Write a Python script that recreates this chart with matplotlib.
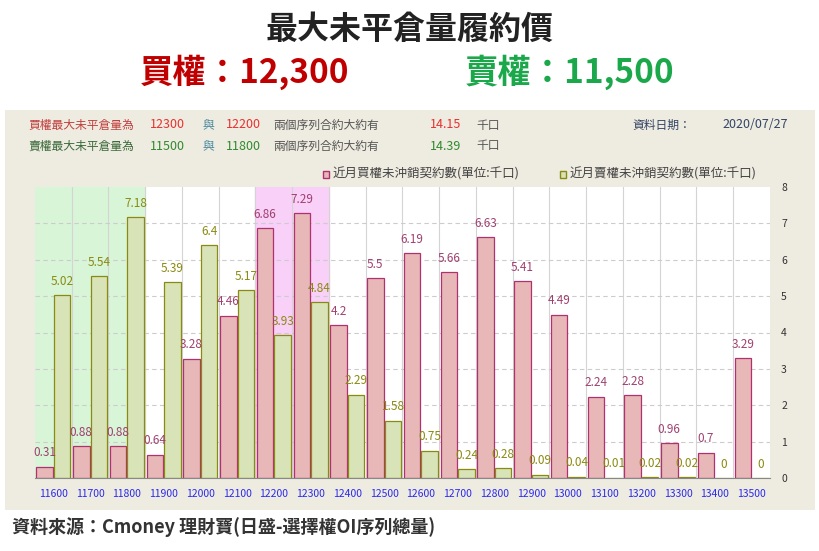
import matplotlib
matplotlib.use("Agg")
import matplotlib.pyplot as plt
from matplotlib.patches import Rectangle
from matplotlib import font_manager
import numpy as np

names = {f.name for f in font_manager.fontManager.ttflist}
cjk = next((c for c in ["Noto Sans CJK TC", "Noto Sans CJK JP", "Noto Sans CJK SC", "Noto Sans CJK KR"] if c in names), "DejaVu Sans")
plt.rcParams["font.family"] = [cjk, "DejaVu Sans"]

strikes = ["11600","11700","11800","11900","12000","12100","12200","12300","12400","12500",
           "12600","12700","12800","12900","13000","13100","13200","13300","13400","13500"]
call_oi = [0.31,0.88,0.88,0.64,3.28,4.46,6.86,7.29,4.2,5.5,6.19,5.66,6.63,5.41,4.49,2.24,2.28,0.96,0.7,3.29]
put_oi = [5.02,5.54,7.18,5.39,6.4,5.17,3.93,4.84,2.29,1.58,0.75,0.24,0.28,0.09,0.04,0.01,0.02,0.02,0,0]
call_labels = ["0.31","0.88","0.88","0.64","3.28","4.46","6.86","7.29","4.2","5.5","6.19","5.66","6.63","5.41","4.49","2.24","2.28","0.96","0.7","3.29"]
put_labels = ["5.02","5.54","7.18","5.39","6.4","5.17","3.93","4.84","2.29","1.58","0.75","0.24","0.28","0.09","0.04","0.01","0.02","0.02","0","0"]

W, H = 820, 551
fig = plt.figure(figsize=(W/100, H/100), dpi=100)
fig.patch.set_facecolor("white")

bg = fig.add_axes([5/W, 1-510/H, 810/W, 400/H], zorder=0)
bg.set_facecolor("#eeebe0")
bg.set_xticks([]); bg.set_yticks([])
for s in bg.spines.values():
    s.set_visible(False)

fig.text(0.5, 1-30/H, "最大未平倉量履約價", ha="center", va="center", fontsize=23, fontweight="bold", color="#222222")
fig.text(245/W, 1-72/H, "買權：12,300", ha="center", va="center", fontsize=24, fontweight="bold", color="#c00000")
fig.text(570/W, 1-72/H, "賣權：11,500", ha="center", va="center", fontsize=24, fontweight="bold", color="#1aa84a")

red = "#e83030"; grn = "#2e8b2e"; gray = "#555555"
y1 = 1-125/H; y2 = 1-146/H
fs = 8.5
for y, lab, a, b, v, c in [(y1, "買權最大未平倉量為", "12300", "12200", "14.15", red),
                           (y2, "賣權最大未平倉量為", "11500", "11800", "14.39", grn)]:
    fig.text(28/W, y, lab, fontsize=fs, color="#c04040" if c == red else "#3a6a3a", va="center")
    fig.text(150/W, y, a, fontsize=fs+0.5, color=c, va="center")
    fig.text(203/W, y, "與", fontsize=fs, color="#4a8aa0", va="center")
    fig.text(226/W, y, b, fontsize=fs+0.5, color=c, va="center")
    fig.text(273/W, y, "兩個序列合約大約有", fontsize=fs, color=gray, va="center")
    fig.text(430/W, y, v, fontsize=fs+0.5, color=c, va="center")
    fig.text(476/W, y, "千口", fontsize=fs, color=gray, va="center")
fig.text(632/W, y1, "資料日期：", fontsize=fs, color="#334466", va="center")
fig.text(722/W, y1, "2020/07/27", fontsize=fs+0.5, color="#334466", va="center")

ly = 1-174/H
fig.patches.append(Rectangle((323/W, ly-3.5/H), 6/W, 7/H, transform=fig.transFigure, facecolor="#e8b8b8", edgecolor="#b03070", lw=1, zorder=5))
fig.text(333/W, ly, "近月買權未沖銷契約數(單位:千口)", fontsize=fs+0.5, color="#444444", va="center")
fig.patches.append(Rectangle((560/W, ly-3.5/H), 6/W, 7/H, transform=fig.transFigure, facecolor="#d8e4b8", edgecolor="#8a8a10", lw=1, zorder=5))
fig.text(570/W, ly, "近月賣權未沖銷契約數(單位:千口)", fontsize=fs+0.5, color="#444444", va="center")

ax = fig.add_axes([35/W, 1-478/H, 735/W, 291/H], zorder=2)
ax.set_facecolor("white")
n = len(strikes)
x = np.arange(n)
ax.set_xlim(-0.5, n-0.5)
ax.set_ylim(0, 8)
ax.axvspan(-0.5, 2.5, color="#d8f5d8", zorder=0)
ax.axvspan(5.5, 7.5, color="#f8d0f8", zorder=0)
for b in np.arange(0.5, n-0.5, 1):
    ax.axvline(b, color="#d4d4d4", lw=0.8, zorder=0.5)
for yv in range(1, 8):
    ax.axhline(yv, color="#cccccc", ls=(0, (4, 3)), lw=0.8, zorder=0.5)

w = 0.45
ax.bar(x-0.24, call_oi, w, color="#e8b8b8", edgecolor="#b03070", lw=0.9, zorder=2)
ax.bar(x+0.24, put_oi, w, color="#d8e4b8", edgecolor="#8a8a10", lw=0.9, zorder=2)
for i in range(n):
    ax.text(x[i]-0.24, call_oi[i]+0.2, call_labels[i], ha="center", va="bottom", fontsize=8.5, color="#a04070", zorder=3)
    ax.text(x[i]+0.24, put_oi[i]+0.2, put_labels[i], ha="center", va="bottom", fontsize=8.5, color="#8a8a10", zorder=3)

ax.set_xticks(x)
ax.set_xticklabels(strikes, fontsize=7.5, color="#2a2aee")
ax.tick_params(axis="x", length=0, pad=8)
ax.yaxis.tick_right()
ax.set_yticks(range(0, 9))
ax.tick_params(axis="y", length=0, labelsize=7.5, labelcolor="#333333", pad=8)
for s in ["top", "right", "left"]:
    ax.spines[s].set_visible(False)
ax.spines["bottom"].set_color("#888888")

fig.text(12/W, 1-527/H, "資料來源：Cmoney 理財寶(日盛-選擇權OI序列總量)", fontsize=13, fontweight="bold", color="#333333", va="center")

fig.savefig("out.png", dpi=100, facecolor="white")
